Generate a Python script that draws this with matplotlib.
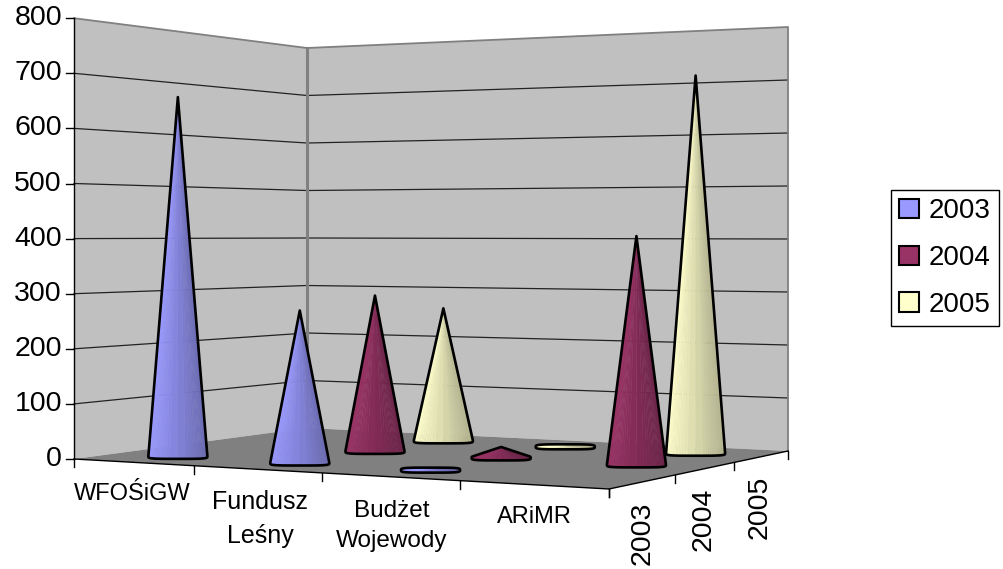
import matplotlib
matplotlib.use("Agg")
import matplotlib.pyplot as plt
import numpy as np
from matplotlib.patches import Patch, Polygon

plt.rcParams['font.family'] = ['Liberation Sans', 'DejaVu Sans']

years = ['2003', '2004', '2005']
y_ticks = [0, 100, 200, 300, 400, 500, 600, 700, 800]

# one list per year: WFOSiGW, Fundusz Lesny, Budzet Wojewody, ARiMR
values_2003 = [660, 272, 4, 0]
values_2004 = [0, 293, 20, 405]
values_2005 = [0, 262, 4, 705]

blue = '#9999ff'
maroon = '#993366'
cream = '#ffffcc'

# corners of the chart floor, in pixels
FL = (74, 459)
FR = (609, 489)
BR = (788, 451)
BL = (307, 428)
# pixels per 100 units at the corners
h_front_left = 55.1
h_back_left = 47.5
h_back_right = 53.0


def floor_matrix():
    """Homography from the unit square to the floor quad"""
    src = [(0, 0), (1, 0), (1, 1), (0, 1)]
    dst = [FL, FR, BR, BL]
    A = []
    b = []
    for (u, v), (x, y) in zip(src, dst):
        A.append([u, v, 1, 0, 0, 0, -u * x, -v * x])
        A.append([0, 0, 0, u, v, 1, -u * y, -v * y])
        b += [x, y]
    return np.append(np.linalg.solve(np.array(A, float), np.array(b, float)), 1).reshape(3, 3)


H = floor_matrix()
ca = 1 / h_front_left
cc = 1 / h_back_left - ca
cb = 1 / h_back_right - ca - cc


def project(u, v, val=0):
    # small warp, the categories bunch up to the left a bit more than the quad gives
    u = u - 0.045 * u * (1 - u)
    p = H @ np.array([u, v, 1.0])
    scale = 1 / (ca + cb * u + cc * v) / 100
    return p[0] / p[2], p[1] / p[2] - val * scale


def hull(points):
    pts = sorted(set(points))
    def half(seq):
        out = []
        for p in seq:
            while len(out) > 1 and (out[-1][0] - out[-2][0]) * (p[1] - out[-2][1]) - (out[-1][1] - out[-2][1]) * (p[0] - out[-2][0]) <= 0:
                out.pop()
            out.append(p)
        return out[:-1]
    return half(pts) + half(pts[::-1])


def draw_cone(ax, u, v, val, color, half_w=29.5, half_h=2.5, shift=2.5):
    t = np.linspace(0, 2 * np.pi, 96, endpoint=False)
    # flat base with blunt corners, drawn level on screen like the reference
    cx, cy = project(u, v)
    cx += shift
    bx = np.sign(np.cos(t)) * np.abs(np.cos(t)) ** 0.5
    by = np.sign(np.sin(t)) * np.abs(np.sin(t)) ** 0.5
    base = [(cx + half_w * a, cy + half_h * b) for a, b in zip(bx, by)]
    apex = (cx, project(u, v, val)[1])
    outline = hull(base + [apex])
    rgb = np.array(matplotlib.colors.to_rgb(color))
    xs = [p[0] for p in outline]
    left, right = min(xs), max(xs)
    n = len(outline)
    for i in range(n):
        a, b = outline[i], outline[(i + 1) % n]
        if a == apex or b == apex:
            continue
        f = ((a[0] + b[0]) / 2 - left) / (right - left)
        shade = rgb * (1 - 0.3 * f)
        ax.add_patch(Polygon([apex, a, b], closed=True, facecolor=shade, edgecolor=shade, lw=0.3, zorder=3))
    ax.add_patch(Polygon(outline, closed=True, fill=False, edgecolor='black', lw=1.9, joinstyle='round', zorder=3))


fig = plt.figure(figsize=(10.04, 5.69), dpi=100)
ax = fig.add_axes([0, 0, 1, 1])
ax.set_xlim(0, 1004)
ax.set_ylim(569, 0)
ax.axis('off')

# walls and floor
top = y_ticks[-1]
ax.add_patch(Polygon([project(0, 0), project(0, 0, top), project(0, 1, top), project(0, 1)], facecolor='#c0c0c0', edgecolor='none', zorder=1))
ax.add_patch(Polygon([project(0, 1), project(0, 1, top), project(1, 1, top), project(1, 1)], facecolor='#c0c0c0', edgecolor='none', zorder=1))
ax.add_patch(Polygon([project(0, 0), project(1, 0), project(1, 1), project(0, 1)], facecolor='#808080', edgecolor='none', zorder=1))

# gridlines
for val in y_ticks[1:-1]:
    pts = [project(0, 0, val), project(0, 1, val), project(1, 1, val)]
    ax.plot(*zip(*pts), color='#222222', lw=0.9, zorder=2)

# wall edges
pts = [project(0, 0, top), project(0, 1, top), project(1, 1, top), project(1, 1)]
ax.plot(*zip(*pts), color='#808080', lw=1.3, zorder=2)
ax.plot(*zip(project(0, 1, top), project(0, 1)), color='#808080', lw=2.2, zorder=2)

# cones, back row first
rows = [(2, values_2005, cream), (1, values_2004, maroon), (0, values_2003, blue)]
for row, vals, color in rows:
    for i, val in enumerate(vals):
        if val > 0:
            draw_cone(ax, (i + 0.5) / 4, (row + 0.5) / 3, val, color)

# axis lines and ticks
ax.plot(*zip(project(0, 0, top), project(0, 0)), color='black', lw=1, zorder=4)
ax.plot(*zip(project(0, 0), project(1, 0), project(1, 1)), color='black', lw=1, zorder=4)
for val in y_ticks:
    x, y = project(0, 0, val)
    ax.plot([x - 8, x], [y, y], color='black', lw=1, zorder=4)
    ax.text(x - 12, y, str(val), ha='right', va='center', fontsize=20.5)
for i in range(5):
    x, y = project(i / 4, 0)
    ax.plot([x, x], [y, y + 8], color='black', lw=1, zorder=4)
for i in range(4):
    x, y = project(1, i / 3)
    ax.plot([x, x], [y, y + 8], color='black', lw=1, zorder=4)

# labels
ax.text(132, 494, 'WFOŚiGW', ha='center', va='center', fontsize=17)
ax.text(260, 519, 'Fundusz\nLeśny', ha='center', va='center', fontsize=18, linespacing=1.5)
ax.text(392, 526, 'Budżet\nWojewody', ha='center', va='center', fontsize=17.5, linespacing=1.5)
ax.text(534, 517, 'ARiMR', ha='center', va='center', fontsize=17)
for label, x, y in zip(years, [643, 704, 760], [533, 519, 507]):
    ax.text(x, y, label, rotation=90, ha='center', va='center', fontsize=20.5)

# legend
handles = [Patch(facecolor=c, edgecolor='black', lw=1.5) for c in [blue, maroon, cream]]
ax.legend(handles, years, loc='center', bbox_to_anchor=(945, 258), bbox_transform=ax.transData,
          fontsize=20, frameon=True, fancybox=False, edgecolor='black', framealpha=1,
          handlelength=0.7, handleheight=0.7, handletextpad=0.35, labelspacing=0.75, borderpad=0.3)

fig.savefig('out.png', dpi=100)
